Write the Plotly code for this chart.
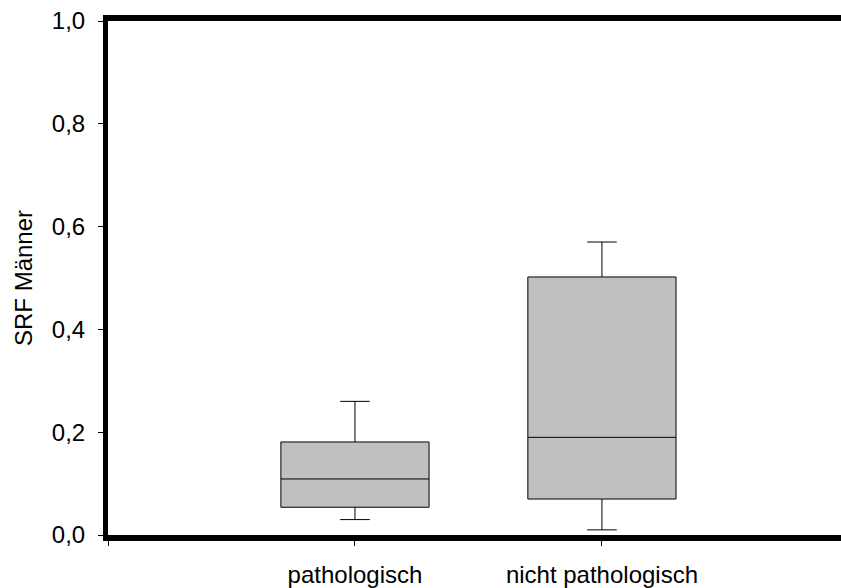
import plotly.graph_objects as go

categories = ["pathologisch", "nicht pathologisch"]
lower_whisker = [0.03, 0.01]
q1_values = [0.054, 0.070]
median_values = [0.109, 0.190]
q3_values = [0.181, 0.502]
upper_whisker = [0.26, 0.57]
y_tick_values = [0.0, 0.2, 0.4, 0.6, 0.8, 1.0]

positions = list(range(1, len(categories) + 1))

fig = go.Figure()
for i, cat in enumerate(categories):
    fig.add_trace(go.Box(
        x=[positions[i]],
        q1=[q1_values[i]],
        median=[median_values[i]],
        q3=[q3_values[i]],
        lowerfence=[lower_whisker[i]],
        upperfence=[upper_whisker[i]],
        name=cat,
        width=0.6,
        whiskerwidth=0.2,
        fillcolor="rgb(192,192,192)",
        line=dict(color="black", width=1),
        boxpoints=False,
        hoverinfo="skip",
    ))

font_family = "Liberation Sans, Arial, sans-serif"

fig.update_layout(
    width=841, height=588,
    margin=dict(l=108, r=0, t=21, b=53),
    paper_bgcolor="white", plot_bgcolor="white",
    showlegend=False,
    separators=",.",
    font=dict(family=font_family, size=24, color="black"),
    xaxis=dict(
        range=[0, 2.968],
        tickvals=[0] + positions,
        ticktext=[""] + categories,
        ticks="outside", ticklen=5, tickwidth=1, tickcolor="black",
        showline=True, linewidth=6, linecolor="black", mirror=True,
        showgrid=False, zeroline=False,
        tickfont=dict(size=24),
        ticklabelstandoff=8,
        ticklabeloverflow="allow",
    ),
    yaxis=dict(
        range=[0, 1],
        tickvals=y_tick_values,
        tickformat=".1f",
        ticks="outside", ticklen=5, tickwidth=1, tickcolor="black",
        showline=True, linewidth=5, linecolor="black", mirror=False,
        showgrid=False, zeroline=False,
        tickfont=dict(size=24),
        ticklabelstandoff=8,
        ticklabeloverflow="allow",
        title=dict(text="SRF Männer", font=dict(size=24), standoff=14),
    ),
)

fig.write_html(
    "out.html",
    config={"displayModeBar": False, "staticPlot": True},
    post_script="document.body.style.margin='0';document.body.style.overflow='hidden';",
)
